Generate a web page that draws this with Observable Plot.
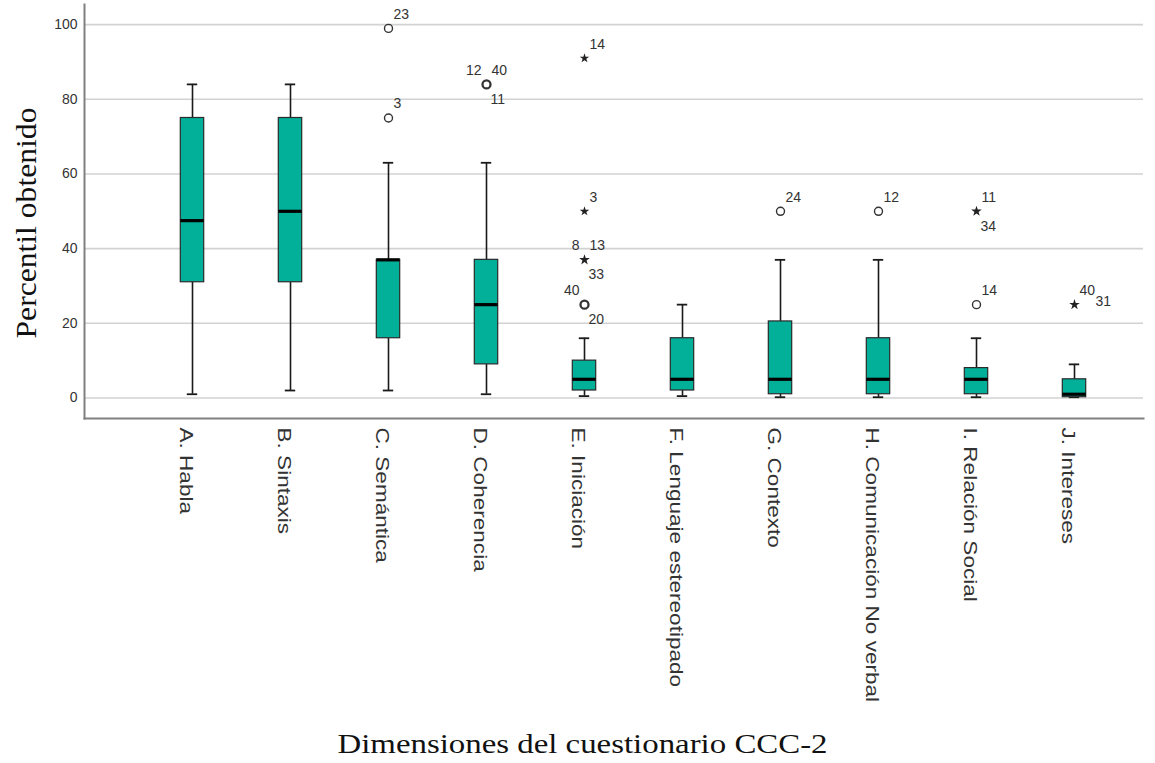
<!DOCTYPE html>
<html><head><meta charset="utf-8">
<script src="https://cdn.jsdelivr.net/npm/d3@7"></script>
<script src="https://cdn.jsdelivr.net/npm/@observablehq/plot@0.6"></script>
<style>body{margin:0;background:#fff;}</style>
</head><body><div id="chart"></div>
<script>
// ---- data ----
const dims = ["A. Habla","B. Sintaxis","C. Semántica","D. Coherencia","E. Iniciación","F. Lenguaje estereotipado","G. Contexto","H. Comunicación No verbal","I. Relación Social","J. Intereses"];
const lowWhisker  = [1, 2, 2, 1, 0.5, 0.5, 0.2, 0.2, 0.2, 0.2];
const q1          = [31, 31, 16, 9, 2, 2, 1, 1, 1, 0.2];
const median      = [47.5, 50, 37, 25, 5, 5, 5, 5, 5, 1];
const q3          = [75, 75, 37, 37, 10, 16, 20.5, 16, 8, 5];
const highWhisker = [84, 84, 63, 63, 16, 25, 37, 37, 16, 9];

const outlierDims   = ["C. Semántica","C. Semántica","D. Coherencia","E. Iniciación","E. Iniciación","E. Iniciación","E. Iniciación","G. Contexto","H. Comunicación No verbal","I. Relación Social","I. Relación Social","J. Intereses"];
const outlierValues = [75, 99, 84, 91, 50, 37, 25, 50, 50, 50, 25, 25];
const outlierKinds  = ["o","o","o","*","*","*","o","o","o","*","o","*"];
const outlierCases  = [["3"],["23"],["12","40","11"],["14"],["3"],["8","13","33"],["40","20"],["24"],["12"],["11","34"],["14"],["40","31"]];
const outlierLabelPlaces = [["ne"],["ne"],["nw","ne","se"],["ne"],["ne"],["nw","ne","se"],["nw","se"],["ne"],["ne"],["ne","se"],["ne"],["ne","e"]];

const yTicks = [0, 20, 40, 60, 80, 100];
const yTitle = "Percentil obtenido";
const xTitle = "Dimensiones del cuestionario CCC-2";

// ---- build tables ----
const boxes = dims.map((d, i) => ({dim: d, lo: lowWhisker[i], q1: q1[i], med: median[i], q3: q3[i], hi: highWhisker[i]}));
const outPoints = [], outLabels = [];
outlierDims.forEach((d, i) => {
  outPoints.push({dim: d, value: outlierValues[i], kind: outlierKinds[i], n: outlierCases[i].length});
  outlierCases[i].forEach((c, j) => outLabels.push({dim: d, value: outlierValues[i], text: c, place: outlierLabelPlaces[i][j]}));
});

const sans = "Liberation Sans, Arial, sans-serif";
const serif = "Liberation Serif, Times New Roman, serif";
const teal = "#02b09a";
const placeStyle = {
  ne: {dx: 5, dy: -14, textAnchor: "start"},
  se: {dx: 4, dy: 15, textAnchor: "start"},
  nw: {dx: -5, dy: -14, textAnchor: "end"},
  e:  {dx: 21, dy: -3, textAnchor: "start"}
};

const boxInset = 37.3, capInset = 43.8;

const chart = Plot.plot({
  width: 1155,
  height: 763,
  marginLeft: 84,
  marginRight: 12,
  marginTop: 4,
  marginBottom: 345,
  style: {background: "#fff", fontFamily: sans},
  x: {type: "band", domain: dims, padding: 0, insetLeft: 55.7, insetRight: 16.7, label: null},
  y: {domain: [-5.5, 105.4], label: null},
  marks: [
    Plot.ruleY(yTicks, {stroke: "#d2d2d2", strokeWidth: 1.6}),
    Plot.frame({anchor: "left", stroke: "#808080", strokeWidth: 2}),
    Plot.frame({anchor: "bottom", stroke: "#808080", strokeWidth: 2}),
    Plot.axisY({ticks: yTicks, tickSize: 0, tickPadding: 7, fontSize: 14, fill: "#333", label: null, tickFormat: d => d}),
    Plot.axisX({tickSize: 0, tickRotate: 90, tickPadding: 9, fontSize: 18.5, fill: "#333", label: null, dx: -6.5}),
    // whiskers
    Plot.ruleX(boxes, {x: "dim", y1: "lo", y2: "q1", stroke: "#1a1a1a", strokeWidth: 1.6}),
    Plot.ruleX(boxes, {x: "dim", y1: "q3", y2: "hi", stroke: "#1a1a1a", strokeWidth: 1.6}),
    Plot.tickY(boxes, {x: "dim", y: "hi", stroke: "#1a1a1a", strokeWidth: 1.8, insetLeft: capInset, insetRight: capInset}),
    Plot.tickY(boxes, {x: "dim", y: "lo", stroke: "#1a1a1a", strokeWidth: 1.8, insetLeft: capInset, insetRight: capInset}),
    // boxes
    Plot.barY(boxes, {x: "dim", y1: "q1", y2: "q3", fill: teal, stroke: "#2a2a2a", strokeWidth: 1.2, insetLeft: boxInset, insetRight: boxInset}),
    Plot.tickY(boxes, {x: "dim", y: "med", stroke: "#000", strokeWidth: 3.2, insetLeft: boxInset, insetRight: boxInset}),
    // outliers
    Plot.dot(outPoints.filter(d => d.kind === "o"), {x: "dim", y: "value", r: 4, fill: "none", stroke: "#333", strokeWidth: d => d.n > 1 ? 2.3 : 1.4}),
    Plot.dot(outPoints.filter(d => d.kind === "*"), {x: "dim", y: "value", symbol: "star", r: d => d.n > 1 ? 5 : 4, fill: "#222", stroke: "none"}),
    ...Object.entries(placeStyle).map(([p, s]) =>
      Plot.text(outLabels.filter(l => l.place === p), {x: "dim", y: "value", text: "text", ...s, fontSize: 14, fill: "#333", fontFamily: sans})),
    // titles
    Plot.text([yTitle], {frameAnchor: "left", textAnchor: "middle", lineAnchor: "middle", rotate: -90, dx: -58.6, dy: 11.5, fontSize: 30, fontFamily: serif, fill: "#111"}),
    Plot.text([xTitle], {frameAnchor: "bottom", textAnchor: "middle", lineAnchor: "middle", dx: -31.5, dy: 326, fontSize: 28, fontFamily: serif, fill: "#111"})
  ]
});
document.getElementById("chart").appendChild(chart);

// stretch the text like the reference
chart.querySelectorAll("text").forEach(t => {
  const s = t.textContent;
  if (dims.includes(s)) {
    const tr = t.getAttribute("transform") || "";
    t.setAttribute("transform", tr + " scale(1.22,1)");
  } else if (s === yTitle) {
    t.setAttribute("textLength", 231); t.setAttribute("lengthAdjust", "spacingAndGlyphs");
  } else if (s === xTitle) {
    t.setAttribute("textLength", 490); t.setAttribute("lengthAdjust", "spacingAndGlyphs");
  }
});
</script>
</body></html>
